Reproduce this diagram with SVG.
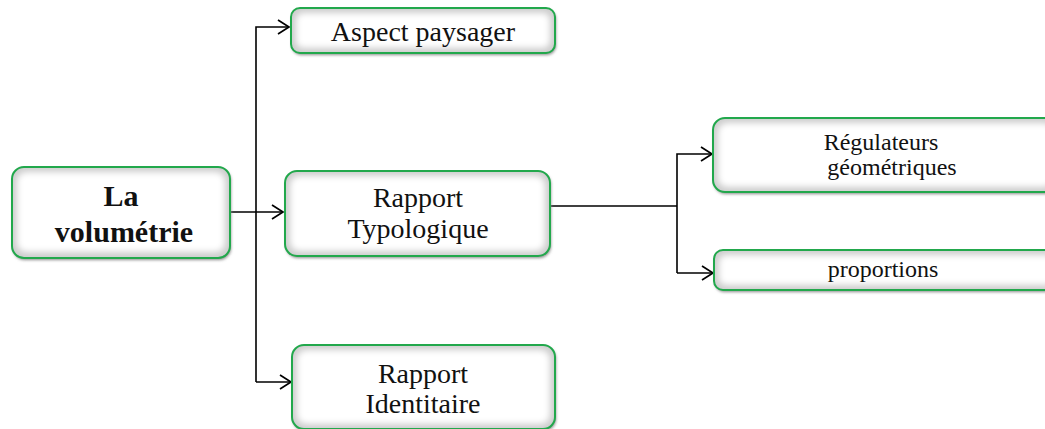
<svg xmlns="http://www.w3.org/2000/svg" width="1045" height="429" viewBox="0 0 1045 429">
<defs>
<style>
.bg{fill:#cdcdcd;}
.in{fill:#ffffff;filter:url(#soft);}
.bd{fill:none;stroke:#22a84c;stroke-width:2;}
.sh{fill:#8a8a8a;filter:url(#shade);}
.t{font-family:"Liberation Serif","Times New Roman",serif;font-size:28px;fill:#111;text-anchor:middle;}
.ts{font-family:"Liberation Serif","Times New Roman",serif;font-size:24px;fill:#111;text-anchor:middle;}
.tb{font-family:"Liberation Serif","Times New Roman",serif;font-size:30px;font-weight:bold;fill:#111;text-anchor:middle;}
.c{fill:none;stroke:#000;stroke-width:1.6;}
</style>
<filter id="soft" x="-20%" y="-40%" width="140%" height="180%"><feGaussianBlur stdDeviation="3"/></filter>
<filter id="shade" x="-20%" y="-40%" width="140%" height="180%"><feGaussianBlur stdDeviation="1.5"/></filter>
<marker id="arr" markerUnits="userSpaceOnUse" markerWidth="15" markerHeight="18" refX="12" refY="8" orient="auto">
<path d="M1,1 L12,8 L1,15" fill="none" stroke="#000" stroke-width="1.7"/>
</marker>
</defs>

<g id="connectors">
<path class="c" d="M230,212 H283" marker-end="url(#arr)"/>
<path class="c" d="M256,382 V27 H289" marker-end="url(#arr)"/>
<path class="c" d="M256,382 H291" marker-end="url(#arr)"/>
<path class="c" d="M550,206 H677"/>
<path class="c" d="M677,273 V154 H712" marker-end="url(#arr)"/>
<path class="c" d="M677,273 H713" marker-end="url(#arr)"/>
</g>

<g id="node-volumetrie">
<rect class="sh" x="13" y="169" width="218" height="91" rx="12"/>
<rect class="bg" x="12" y="167" width="218" height="91" rx="12"/>
<rect class="in" x="17" y="172" width="208" height="80" rx="9"/>
<rect class="bd" x="12" y="167" width="218" height="91" rx="12"/>
<text class="tb" x="121" y="206">La</text>
<text class="tb" x="124" y="242">volumétrie</text>
</g>

<g id="node-aspect">
<rect class="sh" x="292" y="10" width="264" height="45" rx="9"/>
<rect class="bg" x="291" y="8" width="264" height="45" rx="9"/>
<rect class="in" x="296" y="13" width="254" height="35" rx="7"/>
<rect class="bd" x="291" y="8" width="264" height="45" rx="9"/>
<text class="t" x="423" y="41">Aspect paysager</text>
</g>

<g id="node-typologique">
<rect class="sh" x="286" y="173" width="265" height="85" rx="12"/>
<rect class="bg" x="285" y="171" width="265" height="85" rx="12"/>
<rect class="in" x="290" y="176" width="255" height="75" rx="9"/>
<rect class="bd" x="285" y="171" width="265" height="85" rx="12"/>
<text class="t" x="418" y="207">Rapport</text>
<text class="t" x="418" y="238">Typologique</text>
</g>

<g id="node-identitaire">
<rect class="sh" x="293" y="347" width="263" height="84" rx="12"/>
<rect class="bg" x="292" y="345" width="263" height="84" rx="12"/>
<rect class="in" x="297" y="350" width="253" height="74" rx="9"/>
<rect class="bd" x="292" y="345" width="263" height="84" rx="12"/>
<text class="t" x="423" y="383">Rapport</text>
<text class="t" x="423" y="413">Identitaire</text>
</g>

<g id="node-regulateurs">
<rect class="sh" x="714" y="120" width="345" height="74" rx="12"/>
<rect class="bg" x="713" y="118" width="345" height="74" rx="12"/>
<rect class="in" x="718" y="123" width="335" height="64" rx="9"/>
<rect class="bd" x="713" y="118" width="345" height="74" rx="12"/>
<text class="ts" x="881" y="150">Régulateurs</text>
<text class="ts" x="892" y="175">géométriques</text>
</g>

<g id="node-proportions">
<rect class="sh" x="715" y="252" width="345" height="40" rx="9"/>
<rect class="bg" x="714" y="250" width="345" height="40" rx="9"/>
<rect class="in" x="719" y="255" width="335" height="30" rx="7"/>
<rect class="bd" x="714" y="250" width="345" height="40" rx="9"/>
<text class="ts" x="883" y="277">proportions</text>
</g>
</svg>
